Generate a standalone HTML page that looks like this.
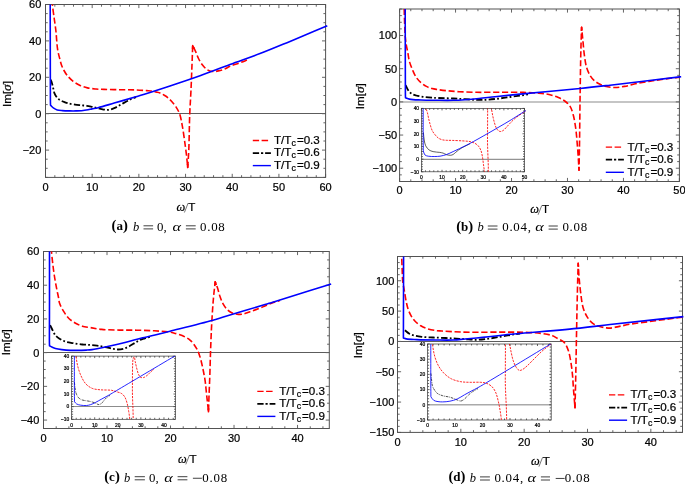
<!DOCTYPE html>
<html><head><meta charset="utf-8"><style>
html,body{margin:0;padding:0;background:#fff;width:685px;height:484px;overflow:hidden}
svg{display:block;will-change:transform}
text{fill:#000;stroke:#000;stroke-width:0.22px}
text.s{stroke:none}
</style></head><body>
<svg width="685" height="484" viewBox="0 0 685 484" font-family='"Liberation Sans", sans-serif'>
<defs><clipPath id="clipa"><rect x="45.00" y="4.50" width="283.10" height="172.90"/></clipPath><clipPath id="clipb"><rect x="399.10" y="9.00" width="282.80" height="172.50"/></clipPath><clipPath id="clipc"><rect x="43.00" y="251.50" width="288.80" height="177.00"/></clipPath><clipPath id="clipd"><rect x="397.00" y="256.50" width="288.00" height="175.90"/></clipPath><clipPath id="clipiB"><rect x="421.40" y="108.40" width="104.60" height="63.40"/></clipPath><clipPath id="clipiC"><rect x="71.60" y="356.10" width="105.40" height="63.20"/></clipPath><clipPath id="clipiD"><rect x="427.60" y="344.00" width="125.10" height="76.00"/></clipPath></defs>
<rect width="685" height="484" fill="#fff"/>
<line x1="45.50" y1="113.50" x2="325.60" y2="113.50" stroke="#5c5c5c" stroke-width="1.0"/>
<path d="M45.50,177.40v-3.6M45.50,4.50v3.6M92.18,177.40v-3.6M92.18,4.50v3.6M138.87,177.40v-3.6M138.87,4.50v3.6M185.55,177.40v-3.6M185.55,4.50v3.6M232.23,177.40v-3.6M232.23,4.50v3.6M278.92,177.40v-3.6M278.92,4.50v3.6M325.60,177.40v-3.6M325.60,4.50v3.6M54.84,177.40v-2.2M54.84,4.50v2.2M64.17,177.40v-2.2M64.17,4.50v2.2M73.51,177.40v-2.2M73.51,4.50v2.2M82.85,177.40v-2.2M82.85,4.50v2.2M101.52,177.40v-2.2M101.52,4.50v2.2M110.86,177.40v-2.2M110.86,4.50v2.2M120.19,177.40v-2.2M120.19,4.50v2.2M129.53,177.40v-2.2M129.53,4.50v2.2M148.20,177.40v-2.2M148.20,4.50v2.2M157.54,177.40v-2.2M157.54,4.50v2.2M166.88,177.40v-2.2M166.88,4.50v2.2M176.21,177.40v-2.2M176.21,4.50v2.2M194.89,177.40v-2.2M194.89,4.50v2.2M204.22,177.40v-2.2M204.22,4.50v2.2M213.56,177.40v-2.2M213.56,4.50v2.2M222.90,177.40v-2.2M222.90,4.50v2.2M241.57,177.40v-2.2M241.57,4.50v2.2M250.91,177.40v-2.2M250.91,4.50v2.2M260.24,177.40v-2.2M260.24,4.50v2.2M269.58,177.40v-2.2M269.58,4.50v2.2M288.25,177.40v-2.2M288.25,4.50v2.2M297.59,177.40v-2.2M297.59,4.50v2.2M306.93,177.40v-2.2M306.93,4.50v2.2M316.26,177.40v-2.2M316.26,4.50v2.2M45.50,150.10h3.6M325.60,150.10h-3.6M45.50,113.70h3.6M325.60,113.70h-3.6M45.50,77.30h3.6M325.60,77.30h-3.6M45.50,40.90h3.6M325.60,40.90h-3.6M45.50,4.50h3.6M325.60,4.50h-3.6M45.50,177.40h2.2M325.60,177.40h-2.2M45.50,168.30h2.2M325.60,168.30h-2.2M45.50,159.20h2.2M325.60,159.20h-2.2M45.50,141.00h2.2M325.60,141.00h-2.2M45.50,131.90h2.2M325.60,131.90h-2.2M45.50,122.80h2.2M325.60,122.80h-2.2M45.50,104.60h2.2M325.60,104.60h-2.2M45.50,95.50h2.2M325.60,95.50h-2.2M45.50,86.40h2.2M325.60,86.40h-2.2M45.50,68.20h2.2M325.60,68.20h-2.2M45.50,59.10h2.2M325.60,59.10h-2.2M45.50,50.00h2.2M325.60,50.00h-2.2M45.50,31.80h2.2M325.60,31.80h-2.2M45.50,22.70h2.2M325.60,22.70h-2.2M45.50,13.60h2.2M325.60,13.60h-2.2" stroke="#666" stroke-width="1.0" fill="none"/>
<rect x="45.50" y="4.50" width="280.10" height="172.90" fill="none" stroke="#525252" stroke-width="1.0"/>
<text x="45.50" y="191.40" text-anchor="middle" font-size="11">0</text>
<text x="92.18" y="191.40" text-anchor="middle" font-size="11">10</text>
<text x="138.87" y="191.40" text-anchor="middle" font-size="11">20</text>
<text x="185.55" y="191.40" text-anchor="middle" font-size="11">30</text>
<text x="232.23" y="191.40" text-anchor="middle" font-size="11">40</text>
<text x="278.92" y="191.40" text-anchor="middle" font-size="11">50</text>
<text x="325.60" y="191.40" text-anchor="middle" font-size="11">60</text>
<text x="41.30" y="154.04" text-anchor="end" font-size="11">−20</text>
<text x="41.30" y="117.64" text-anchor="end" font-size="11">0</text>
<text x="41.30" y="81.24" text-anchor="end" font-size="11">20</text>
<text x="41.30" y="44.84" text-anchor="end" font-size="11">40</text>
<text x="41.30" y="8.44" text-anchor="end" font-size="11">60</text>
<line x1="399.60" y1="102.00" x2="679.40" y2="102.00" stroke="#b2b2b2" stroke-width="1.6"/>
<path d="M399.60,181.50v-3.6M399.60,9.00v3.6M455.56,181.50v-3.6M455.56,9.00v3.6M511.52,181.50v-3.6M511.52,9.00v3.6M567.48,181.50v-3.6M567.48,9.00v3.6M623.44,181.50v-3.6M623.44,9.00v3.6M679.40,181.50v-3.6M679.40,9.00v3.6M410.79,181.50v-2.2M410.79,9.00v2.2M421.98,181.50v-2.2M421.98,9.00v2.2M433.18,181.50v-2.2M433.18,9.00v2.2M444.37,181.50v-2.2M444.37,9.00v2.2M466.75,181.50v-2.2M466.75,9.00v2.2M477.94,181.50v-2.2M477.94,9.00v2.2M489.14,181.50v-2.2M489.14,9.00v2.2M500.33,181.50v-2.2M500.33,9.00v2.2M522.71,181.50v-2.2M522.71,9.00v2.2M533.90,181.50v-2.2M533.90,9.00v2.2M545.10,181.50v-2.2M545.10,9.00v2.2M556.29,181.50v-2.2M556.29,9.00v2.2M578.67,181.50v-2.2M578.67,9.00v2.2M589.86,181.50v-2.2M589.86,9.00v2.2M601.06,181.50v-2.2M601.06,9.00v2.2M612.25,181.50v-2.2M612.25,9.00v2.2M634.63,181.50v-2.2M634.63,9.00v2.2M645.82,181.50v-2.2M645.82,9.00v2.2M657.02,181.50v-2.2M657.02,9.00v2.2M668.21,181.50v-2.2M668.21,9.00v2.2M399.60,168.23h3.6M679.40,168.23h-3.6M399.60,135.06h3.6M679.40,135.06h-3.6M399.60,101.88h3.6M679.40,101.88h-3.6M399.60,68.71h3.6M679.40,68.71h-3.6M399.60,35.54h3.6M679.40,35.54h-3.6M399.60,181.50h2.2M679.40,181.50h-2.2M399.60,174.87h2.2M679.40,174.87h-2.2M399.60,161.60h2.2M679.40,161.60h-2.2M399.60,154.96h2.2M679.40,154.96h-2.2M399.60,148.33h2.2M679.40,148.33h-2.2M399.60,141.69h2.2M679.40,141.69h-2.2M399.60,128.42h2.2M679.40,128.42h-2.2M399.60,121.79h2.2M679.40,121.79h-2.2M399.60,115.15h2.2M679.40,115.15h-2.2M399.60,108.52h2.2M679.40,108.52h-2.2M399.60,95.25h2.2M679.40,95.25h-2.2M399.60,88.62h2.2M679.40,88.62h-2.2M399.60,81.98h2.2M679.40,81.98h-2.2M399.60,75.35h2.2M679.40,75.35h-2.2M399.60,62.08h2.2M679.40,62.08h-2.2M399.60,55.44h2.2M679.40,55.44h-2.2M399.60,48.81h2.2M679.40,48.81h-2.2M399.60,42.17h2.2M679.40,42.17h-2.2M399.60,28.90h2.2M679.40,28.90h-2.2M399.60,22.27h2.2M679.40,22.27h-2.2M399.60,15.63h2.2M679.40,15.63h-2.2M399.60,9.00h2.2M679.40,9.00h-2.2" stroke="#666" stroke-width="1.0" fill="none"/>
<rect x="399.60" y="9.00" width="279.80" height="172.50" fill="none" stroke="#525252" stroke-width="1.0"/>
<text x="399.60" y="194.20" text-anchor="middle" font-size="11">0</text>
<text x="455.56" y="194.20" text-anchor="middle" font-size="11">10</text>
<text x="511.52" y="194.20" text-anchor="middle" font-size="11">20</text>
<text x="567.48" y="194.20" text-anchor="middle" font-size="11">30</text>
<text x="623.44" y="194.20" text-anchor="middle" font-size="11">40</text>
<text x="679.40" y="194.20" text-anchor="middle" font-size="11">50</text>
<text x="397.20" y="172.17" text-anchor="end" font-size="11">−100</text>
<text x="397.20" y="139.00" text-anchor="end" font-size="11">−50</text>
<text x="397.20" y="105.82" text-anchor="end" font-size="11">0</text>
<text x="397.20" y="72.65" text-anchor="end" font-size="11">50</text>
<text x="397.20" y="39.48" text-anchor="end" font-size="11">100</text>
<line x1="43.50" y1="352.50" x2="329.30" y2="352.50" stroke="#5c5c5c" stroke-width="1.0"/>
<path d="M43.50,428.50v-3.6M43.50,251.50v3.6M107.01,428.50v-3.6M107.01,251.50v3.6M170.52,428.50v-3.6M170.52,251.50v3.6M234.03,428.50v-3.6M234.03,251.50v3.6M297.54,428.50v-3.6M297.54,251.50v3.6M56.20,428.50v-2.2M56.20,251.50v2.2M68.90,428.50v-2.2M68.90,251.50v2.2M81.61,428.50v-2.2M81.61,251.50v2.2M94.31,428.50v-2.2M94.31,251.50v2.2M119.71,428.50v-2.2M119.71,251.50v2.2M132.42,428.50v-2.2M132.42,251.50v2.2M145.12,428.50v-2.2M145.12,251.50v2.2M157.82,428.50v-2.2M157.82,251.50v2.2M183.22,428.50v-2.2M183.22,251.50v2.2M195.93,428.50v-2.2M195.93,251.50v2.2M208.63,428.50v-2.2M208.63,251.50v2.2M221.33,428.50v-2.2M221.33,251.50v2.2M246.74,428.50v-2.2M246.74,251.50v2.2M259.44,428.50v-2.2M259.44,251.50v2.2M272.14,428.50v-2.2M272.14,251.50v2.2M284.84,428.50v-2.2M284.84,251.50v2.2M310.25,428.50v-2.2M310.25,251.50v2.2M322.95,428.50v-2.2M322.95,251.50v2.2M43.50,420.07h3.6M329.30,420.07h-3.6M43.50,386.36h3.6M329.30,386.36h-3.6M43.50,352.64h3.6M329.30,352.64h-3.6M43.50,318.93h3.6M329.30,318.93h-3.6M43.50,285.21h3.6M329.30,285.21h-3.6M43.50,251.50h3.6M329.30,251.50h-3.6M43.50,428.50h2.2M329.30,428.50h-2.2M43.50,411.64h2.2M329.30,411.64h-2.2M43.50,403.21h2.2M329.30,403.21h-2.2M43.50,394.79h2.2M329.30,394.79h-2.2M43.50,377.93h2.2M329.30,377.93h-2.2M43.50,369.50h2.2M329.30,369.50h-2.2M43.50,361.07h2.2M329.30,361.07h-2.2M43.50,344.21h2.2M329.30,344.21h-2.2M43.50,335.79h2.2M329.30,335.79h-2.2M43.50,327.36h2.2M329.30,327.36h-2.2M43.50,310.50h2.2M329.30,310.50h-2.2M43.50,302.07h2.2M329.30,302.07h-2.2M43.50,293.64h2.2M329.30,293.64h-2.2M43.50,276.79h2.2M329.30,276.79h-2.2M43.50,268.36h2.2M329.30,268.36h-2.2M43.50,259.93h2.2M329.30,259.93h-2.2" stroke="#666" stroke-width="1.0" fill="none"/>
<rect x="43.50" y="251.50" width="285.80" height="177.00" fill="none" stroke="#525252" stroke-width="1.0"/>
<text x="43.50" y="441.50" text-anchor="middle" font-size="11">0</text>
<text x="107.01" y="441.50" text-anchor="middle" font-size="11">10</text>
<text x="170.52" y="441.50" text-anchor="middle" font-size="11">20</text>
<text x="234.03" y="441.50" text-anchor="middle" font-size="11">30</text>
<text x="297.54" y="441.50" text-anchor="middle" font-size="11">40</text>
<text x="39.30" y="424.01" text-anchor="end" font-size="11">−40</text>
<text x="39.30" y="390.30" text-anchor="end" font-size="11">−20</text>
<text x="39.30" y="356.58" text-anchor="end" font-size="11">0</text>
<text x="39.30" y="322.87" text-anchor="end" font-size="11">20</text>
<text x="39.30" y="289.15" text-anchor="end" font-size="11">40</text>
<text x="39.30" y="255.44" text-anchor="end" font-size="11">60</text>
<line x1="397.50" y1="341.50" x2="682.50" y2="341.50" stroke="#5c5c5c" stroke-width="1.0"/>
<path d="M397.50,432.40v-3.6M397.50,256.50v3.6M460.83,432.40v-3.6M460.83,256.50v3.6M524.17,432.40v-3.6M524.17,256.50v3.6M587.50,432.40v-3.6M587.50,256.50v3.6M650.83,432.40v-3.6M650.83,256.50v3.6M410.17,432.40v-2.2M410.17,256.50v2.2M422.83,432.40v-2.2M422.83,256.50v2.2M435.50,432.40v-2.2M435.50,256.50v2.2M448.17,432.40v-2.2M448.17,256.50v2.2M473.50,432.40v-2.2M473.50,256.50v2.2M486.17,432.40v-2.2M486.17,256.50v2.2M498.83,432.40v-2.2M498.83,256.50v2.2M511.50,432.40v-2.2M511.50,256.50v2.2M536.83,432.40v-2.2M536.83,256.50v2.2M549.50,432.40v-2.2M549.50,256.50v2.2M562.17,432.40v-2.2M562.17,256.50v2.2M574.83,432.40v-2.2M574.83,256.50v2.2M600.17,432.40v-2.2M600.17,256.50v2.2M612.83,432.40v-2.2M612.83,256.50v2.2M625.50,432.40v-2.2M625.50,256.50v2.2M638.17,432.40v-2.2M638.17,256.50v2.2M663.50,432.40v-2.2M663.50,256.50v2.2M676.17,432.40v-2.2M676.17,256.50v2.2M397.50,432.40h3.6M682.50,432.40h-3.6M397.50,402.07h3.6M682.50,402.07h-3.6M397.50,371.74h3.6M682.50,371.74h-3.6M397.50,341.42h3.6M682.50,341.42h-3.6M397.50,311.09h3.6M682.50,311.09h-3.6M397.50,280.76h3.6M682.50,280.76h-3.6M397.50,426.33h2.2M682.50,426.33h-2.2M397.50,420.27h2.2M682.50,420.27h-2.2M397.50,414.20h2.2M682.50,414.20h-2.2M397.50,408.14h2.2M682.50,408.14h-2.2M397.50,396.01h2.2M682.50,396.01h-2.2M397.50,389.94h2.2M682.50,389.94h-2.2M397.50,383.88h2.2M682.50,383.88h-2.2M397.50,377.81h2.2M682.50,377.81h-2.2M397.50,365.68h2.2M682.50,365.68h-2.2M397.50,359.61h2.2M682.50,359.61h-2.2M397.50,353.55h2.2M682.50,353.55h-2.2M397.50,347.48h2.2M682.50,347.48h-2.2M397.50,335.35h2.2M682.50,335.35h-2.2M397.50,329.29h2.2M682.50,329.29h-2.2M397.50,323.22h2.2M682.50,323.22h-2.2M397.50,317.16h2.2M682.50,317.16h-2.2M397.50,305.02h2.2M682.50,305.02h-2.2M397.50,298.96h2.2M682.50,298.96h-2.2M397.50,292.89h2.2M682.50,292.89h-2.2M397.50,286.83h2.2M682.50,286.83h-2.2M397.50,274.70h2.2M682.50,274.70h-2.2M397.50,268.63h2.2M682.50,268.63h-2.2M397.50,262.57h2.2M682.50,262.57h-2.2M397.50,256.50h2.2M682.50,256.50h-2.2" stroke="#666" stroke-width="1.0" fill="none"/>
<rect x="397.50" y="256.50" width="285.00" height="175.90" fill="none" stroke="#525252" stroke-width="1.0"/>
<text x="397.50" y="445.90" text-anchor="middle" font-size="11">0</text>
<text x="460.83" y="445.90" text-anchor="middle" font-size="11">10</text>
<text x="524.17" y="445.90" text-anchor="middle" font-size="11">20</text>
<text x="587.50" y="445.90" text-anchor="middle" font-size="11">30</text>
<text x="650.83" y="445.90" text-anchor="middle" font-size="11">40</text>
<text x="394.30" y="436.34" text-anchor="end" font-size="11">−150</text>
<text x="394.30" y="406.01" text-anchor="end" font-size="11">−100</text>
<text x="394.30" y="375.68" text-anchor="end" font-size="11">−50</text>
<text x="394.30" y="345.36" text-anchor="end" font-size="11">0</text>
<text x="394.30" y="315.03" text-anchor="end" font-size="11">50</text>
<text x="394.30" y="284.70" text-anchor="end" font-size="11">100</text>
<path d="M52.30,0.00C52.33,1.43 52.27,2.49 52.40,4.30C52.63,7.42 53.44,12.74 54.00,17.00C54.57,21.31 55.24,25.20 55.80,30.00C56.49,35.94 56.78,44.50 57.70,50.00C58.36,53.93 59.42,57.33 60.10,60.00C60.56,61.80 60.74,62.92 61.30,64.50C61.97,66.38 62.99,68.65 64.00,70.50C64.94,72.23 65.80,73.69 67.10,75.30C68.65,77.22 70.75,79.42 72.90,81.10C75.08,82.80 77.63,84.25 80.10,85.40C82.47,86.50 84.84,87.30 87.40,87.90C90.12,88.53 93.18,88.75 96.00,89.00C98.71,89.24 100.87,89.29 104.00,89.40C108.42,89.55 114.75,89.62 120.00,89.70C125.08,89.78 130.31,89.73 135.00,89.90C139.14,90.05 143.56,90.39 146.70,90.60C148.81,90.74 150.36,90.74 152.00,91.00C153.46,91.23 154.75,91.66 156.10,92.00C157.42,92.33 158.70,92.49 160.00,93.00C161.43,93.56 162.94,94.48 164.30,95.30C165.60,96.08 166.84,96.86 168.00,97.80C169.18,98.76 170.16,99.74 171.30,101.00C172.73,102.57 174.46,104.56 175.80,106.60C177.21,108.74 178.48,110.86 179.50,113.60C180.78,117.06 181.44,121.36 182.30,125.90C183.35,131.44 184.31,138.79 185.10,144.50C185.77,149.36 186.35,153.89 186.80,158.00C187.18,161.44 187.40,164.33 187.70,167.50C188.07,161.67 188.50,156.84 188.80,150.00C189.23,140.34 189.28,125.69 189.70,115.00C190.05,105.96 190.61,98.57 191.00,90.00C191.41,80.93 191.79,70.11 192.10,62.00C192.34,55.78 192.50,51.00 192.70,45.50C193.60,47.37 194.50,49.09 195.40,51.10C196.43,53.38 197.31,56.18 198.50,58.50C199.63,60.70 200.83,62.82 202.30,64.70C203.74,66.55 205.42,68.56 207.20,69.70C208.75,70.70 210.42,71.28 212.20,71.50C214.13,71.74 216.35,71.31 218.40,70.90C220.49,70.48 222.64,69.79 224.60,69.00C226.50,68.24 227.89,67.19 230.00,66.30C232.79,65.12 236.86,63.98 240.00,62.80C242.83,61.74 245.33,60.67 248.00,59.60" fill="none" stroke="#ff0000" stroke-width="1.6" stroke-dasharray="6.2 2.7" stroke-linejoin="round" clip-path="url(#clipa)"/><path d="M187.37,164.02L187.70,167.50L187.92,164.01" fill="none" stroke="#ff0000" stroke-width="1.6" stroke-linejoin="round" clip-path="url(#clipa)"/><path d="M192.57,49.00L192.70,45.50L194.22,48.65" fill="none" stroke="#ff0000" stroke-width="1.6" stroke-linejoin="round" clip-path="url(#clipa)"/>
<path d="M50.60,79.50C51.03,80.67 51.50,81.71 51.90,83.00C52.38,84.55 52.77,86.47 53.20,88.20C53.63,89.93 53.82,91.79 54.50,93.40C55.16,94.98 56.12,96.60 57.20,97.80C58.18,98.89 59.34,99.66 60.60,100.40C61.93,101.18 63.62,101.78 65.00,102.30C66.20,102.75 67.07,103.06 68.40,103.40C70.23,103.86 72.94,104.29 75.00,104.60C76.80,104.87 78.28,105.01 80.10,105.20C82.18,105.42 84.68,105.49 86.80,105.80C88.73,106.08 90.34,106.48 92.30,106.90C94.56,107.39 97.10,108.11 99.60,108.60C102.20,109.11 105.07,110.02 107.60,109.90C109.92,109.79 112.00,109.07 114.20,108.20C116.63,107.24 119.21,105.46 121.50,104.20C123.55,103.08 125.49,101.95 127.30,101.00C128.86,100.18 130.22,99.44 131.70,98.80C133.13,98.18 134.57,97.73 136.00,97.20" fill="none" stroke="#000000" stroke-width="1.8" stroke-dasharray="6.3 2.2 1.8 2.3" stroke-linejoin="round" clip-path="url(#clipa)"/>
<path d="M50.20,0.00C50.23,20.00 50.26,42.02 50.30,60.00C50.33,74.68 50.32,92.93 50.40,100.00C50.43,102.55 50.47,103.47 50.50,105.20C51.57,106.20 52.54,107.41 53.70,108.20C54.79,108.95 55.88,109.50 57.20,109.90C58.73,110.36 60.50,110.43 62.40,110.60C64.69,110.80 67.62,110.85 70.00,110.90C72.12,110.94 74.03,110.94 76.00,110.90C77.90,110.87 79.68,110.87 81.60,110.70C83.67,110.52 86.12,110.14 88.00,109.80C89.50,109.53 90.52,109.21 92.00,108.90C93.82,108.52 95.60,108.30 98.10,107.70C102.21,106.71 108.49,104.75 114.20,103.10C120.69,101.22 130.44,98.31 135.00,97.00C137.23,96.36 137.64,96.31 140.00,95.60C145.81,93.86 160.01,89.29 170.00,86.00C180.01,82.70 190.03,79.37 200.00,75.80C210.03,72.21 219.99,68.20 230.00,64.50C239.99,60.80 250.04,57.43 260.00,53.60C270.04,49.74 279.47,45.74 290.00,41.40C301.77,36.55 314.87,31.00 327.30,25.80" fill="none" stroke="#0000ff" stroke-width="1.6" stroke-linejoin="round" clip-path="url(#clipa)"/>
<path d="M404.20,0.00C404.20,3.10 404.14,5.80 404.20,9.30C404.27,13.85 404.52,20.23 404.70,25.00C404.85,28.99 404.91,32.52 405.20,36.00C405.46,39.16 405.84,42.14 406.30,45.00C406.72,47.62 407.30,49.89 407.80,52.50C408.34,55.34 408.59,58.45 409.40,61.40C410.24,64.45 411.59,67.72 412.80,70.50C413.87,72.96 414.83,75.27 416.20,77.30C417.49,79.22 419.01,80.89 420.70,82.40C422.41,83.93 424.43,85.35 426.40,86.40C428.24,87.38 430.16,88.07 432.10,88.60C434.02,89.13 435.80,89.27 438.00,89.60C440.79,90.01 444.16,90.46 447.50,90.80C451.19,91.18 454.91,91.46 459.20,91.70C464.45,91.99 470.45,92.21 476.70,92.30C483.91,92.41 492.23,92.18 500.00,92.20C507.79,92.22 516.44,92.21 523.40,92.40C529.01,92.55 534.02,92.69 538.60,93.10C542.40,93.44 545.65,93.75 549.00,94.50C552.25,95.23 555.56,96.25 558.40,97.50C560.97,98.63 563.39,99.93 565.40,101.50C567.24,102.94 568.84,104.39 570.10,106.40C571.54,108.71 572.33,111.64 573.20,114.80C574.27,118.69 575.03,123.41 575.70,128.10C576.44,133.29 576.83,139.10 577.30,144.60C577.77,150.10 578.20,156.41 578.50,161.10C578.72,164.58 578.83,167.17 579.00,170.20C579.17,161.67 579.34,154.53 579.50,144.60C579.72,130.78 579.86,111.22 580.10,95.00C580.33,79.38 580.59,61.50 580.90,49.00C581.11,40.39 581.37,34.47 581.60,27.20C582.07,32.03 582.52,36.87 583.00,41.70C583.48,46.53 583.83,51.65 584.50,56.20C585.10,60.30 585.61,64.35 586.70,67.80C587.64,70.78 588.86,73.52 590.30,75.80C591.55,77.79 592.96,79.47 594.60,80.90C596.20,82.30 598.20,83.39 600.00,84.30C601.63,85.12 602.95,85.70 604.90,86.20C607.57,86.89 611.43,87.47 614.70,87.50C617.96,87.53 621.07,87.00 624.50,86.40C628.39,85.73 632.27,84.41 636.80,83.50C642.30,82.39 649.06,81.33 655.20,80.40C661.33,79.47 669.05,78.42 673.60,77.90C676.28,77.59 677.87,77.50 680.00,77.30" fill="none" stroke="#ff0000" stroke-width="1.6" stroke-dasharray="6.2 2.7" stroke-linejoin="round" clip-path="url(#clipb)"/><path d="M578.81,166.71L579.00,170.20L579.07,166.70" fill="none" stroke="#ff0000" stroke-width="1.6" stroke-linejoin="round" clip-path="url(#clipb)"/><path d="M581.49,30.70L581.60,27.20L581.94,30.68" fill="none" stroke="#ff0000" stroke-width="1.6" stroke-linejoin="round" clip-path="url(#clipb)"/>
<path d="M405.60,85.20C406.47,86.90 407.15,88.83 408.20,90.30C409.17,91.66 410.27,92.93 411.60,93.80C412.93,94.67 414.50,95.03 416.20,95.50C418.23,96.06 420.56,96.45 423.00,96.80C425.80,97.21 429.39,97.50 432.10,97.70C434.28,97.86 435.57,97.90 438.00,98.00C441.92,98.16 448.63,98.28 453.40,98.50C457.54,98.69 460.95,98.98 465.00,99.20C469.45,99.45 474.80,99.86 479.00,99.90C482.44,99.93 485.11,99.82 488.40,99.60C492.07,99.35 496.28,98.85 500.00,98.40C503.46,97.98 506.67,97.47 510.00,97.00C513.33,96.53 516.85,96.06 520.00,95.60C522.82,95.19 525.33,94.80 528.00,94.40" fill="none" stroke="#000000" stroke-width="1.8" stroke-dasharray="6.3 2.2 1.8 2.3" stroke-linejoin="round" clip-path="url(#clipb)"/>
<path d="M405.20,0.00C405.23,20.00 405.26,42.82 405.30,60.00C405.33,72.93 405.32,88.38 405.40,94.00C405.43,95.86 405.47,96.47 405.50,97.70C406.80,98.17 407.73,98.74 409.40,99.10C412.16,99.69 416.53,99.80 420.70,100.00C425.85,100.25 432.40,100.25 438.00,100.30C443.28,100.35 448.63,100.42 453.40,100.30C457.54,100.19 460.95,99.98 465.00,99.70C469.45,99.39 474.18,98.98 479.00,98.50C484.16,97.99 489.07,97.34 495.00,96.70C502.41,95.90 509.87,95.10 520.00,94.10C535.69,92.55 563.44,90.18 580.00,88.50C591.72,87.31 597.92,86.58 610.00,85.20C628.43,83.09 674.03,77.66 679.80,76.90C680.62,76.79 680.73,76.77 681.20,76.70" fill="none" stroke="#0000ff" stroke-width="1.6" stroke-linejoin="round" clip-path="url(#clipb)"/>
<rect x="408" y="104" width="124" height="74" fill="#fff"/>
<line x1="421.40" y1="159.30" x2="524.50" y2="159.30" stroke="#4a4a4a" stroke-width="0.75"/>
<path d="M421.40,171.80v-2.0M421.40,108.40v2.0M442.02,171.80v-2.0M442.02,108.40v2.0M462.64,171.80v-2.0M462.64,108.40v2.0M483.26,171.80v-2.0M483.26,108.40v2.0M503.88,171.80v-2.0M503.88,108.40v2.0M524.50,171.80v-2.0M524.50,108.40v2.0M425.52,171.80v-1.5M425.52,108.40v1.5M429.65,171.80v-1.5M429.65,108.40v1.5M433.77,171.80v-1.5M433.77,108.40v1.5M437.90,171.80v-1.5M437.90,108.40v1.5M446.14,171.80v-1.5M446.14,108.40v1.5M450.27,171.80v-1.5M450.27,108.40v1.5M454.39,171.80v-1.5M454.39,108.40v1.5M458.52,171.80v-1.5M458.52,108.40v1.5M466.76,171.80v-1.5M466.76,108.40v1.5M470.89,171.80v-1.5M470.89,108.40v1.5M475.01,171.80v-1.5M475.01,108.40v1.5M479.14,171.80v-1.5M479.14,108.40v1.5M487.38,171.80v-1.5M487.38,108.40v1.5M491.51,171.80v-1.5M491.51,108.40v1.5M495.63,171.80v-1.5M495.63,108.40v1.5M499.76,171.80v-1.5M499.76,108.40v1.5M508.00,171.80v-1.5M508.00,108.40v1.5M512.13,171.80v-1.5M512.13,108.40v1.5M516.25,171.80v-1.5M516.25,108.40v1.5M520.38,171.80v-1.5M520.38,108.40v1.5M421.40,171.80h2.0M524.50,171.80h-2.0M421.40,159.12h2.0M524.50,159.12h-2.0M421.40,146.44h2.0M524.50,146.44h-2.0M421.40,133.76h2.0M524.50,133.76h-2.0M421.40,121.08h2.0M524.50,121.08h-2.0M421.40,108.40h2.0M524.50,108.40h-2.0M421.40,169.26h1.5M524.50,169.26h-1.5M421.40,166.73h1.5M524.50,166.73h-1.5M421.40,164.19h1.5M524.50,164.19h-1.5M421.40,161.66h1.5M524.50,161.66h-1.5M421.40,156.58h1.5M524.50,156.58h-1.5M421.40,154.05h1.5M524.50,154.05h-1.5M421.40,151.51h1.5M524.50,151.51h-1.5M421.40,148.98h1.5M524.50,148.98h-1.5M421.40,143.90h1.5M524.50,143.90h-1.5M421.40,141.37h1.5M524.50,141.37h-1.5M421.40,138.83h1.5M524.50,138.83h-1.5M421.40,136.30h1.5M524.50,136.30h-1.5M421.40,131.22h1.5M524.50,131.22h-1.5M421.40,128.69h1.5M524.50,128.69h-1.5M421.40,126.15h1.5M524.50,126.15h-1.5M421.40,123.62h1.5M524.50,123.62h-1.5M421.40,118.54h1.5M524.50,118.54h-1.5M421.40,116.01h1.5M524.50,116.01h-1.5M421.40,113.47h1.5M524.50,113.47h-1.5M421.40,110.94h1.5M524.50,110.94h-1.5" stroke="#222" stroke-width="0.7" fill="none"/>
<rect x="421.40" y="108.40" width="103.10" height="63.40" fill="none" stroke="#333" stroke-width="0.7"/>
<text x="421.40" y="179.10" text-anchor="middle" font-size="4.9">0</text>
<text x="442.02" y="179.10" text-anchor="middle" font-size="4.9">10</text>
<text x="462.64" y="179.10" text-anchor="middle" font-size="4.9">20</text>
<text x="483.26" y="179.10" text-anchor="middle" font-size="4.9">30</text>
<text x="503.88" y="179.10" text-anchor="middle" font-size="4.9">40</text>
<text x="524.50" y="179.10" text-anchor="middle" font-size="4.9">50</text>
<text x="419.10" y="173.55" text-anchor="end" font-size="4.9">−10</text>
<text x="419.10" y="160.87" text-anchor="end" font-size="4.9">0</text>
<text x="419.10" y="148.19" text-anchor="end" font-size="4.9">10</text>
<text x="419.10" y="135.51" text-anchor="end" font-size="4.9">20</text>
<text x="419.10" y="122.83" text-anchor="end" font-size="4.9">30</text>
<text x="419.10" y="110.15" text-anchor="end" font-size="4.9">40</text>
<path d="M426.00,106.00C426.03,106.83 425.94,107.58 426.10,108.50C426.31,109.71 427.01,111.10 427.40,112.60C427.86,114.36 428.14,116.41 428.60,118.40C429.10,120.53 429.66,122.88 430.30,125.00C430.90,127.01 431.42,129.09 432.30,130.80C433.09,132.35 434.14,133.65 435.20,134.90C436.22,136.11 437.24,137.36 438.50,138.20C439.74,139.02 441.28,139.55 442.70,139.90C444.05,140.23 445.35,140.22 446.80,140.30C448.43,140.39 449.95,140.33 452.00,140.40C454.99,140.50 459.75,140.66 463.00,140.90C465.60,141.09 467.90,141.14 470.00,141.60C471.80,142.00 473.48,142.54 474.90,143.30C476.17,143.98 477.26,144.76 478.20,145.80C479.22,146.92 480.03,148.31 480.70,149.90C481.50,151.79 481.95,154.16 482.40,156.50C482.90,159.09 483.14,162.15 483.50,164.80C483.84,167.23 484.22,169.37 484.50,171.80C484.80,174.42 484.97,177.27 485.20,180.00C485.87,180.00 486.65,180.54 487.20,180.00C489.65,177.56 487.42,153.33 487.50,140.00C487.58,126.67 487.63,113.33 487.70,100.00C488.87,102.77 490.33,105.49 491.20,108.30C492.04,111.03 492.32,114.06 492.90,116.60C493.39,118.77 493.83,120.68 494.40,122.60C494.94,124.41 495.42,126.35 496.20,127.80C496.84,129.00 497.64,130.19 498.50,130.80C499.17,131.27 499.94,131.53 500.70,131.50C501.54,131.46 502.46,130.97 503.30,130.40C504.33,129.70 505.26,128.49 506.30,127.40C507.48,126.15 508.68,124.67 510.00,123.30C511.41,121.84 512.90,120.27 514.50,118.90C516.13,117.50 518.03,116.20 519.70,115.00C521.22,113.92 523.04,112.70 524.10,112.00C524.69,111.61 525.03,111.40 525.50,111.10" fill="none" stroke="#ff0000" stroke-width="0.85" stroke-dasharray="2.2 1.1" stroke-linejoin="round" clip-path="url(#clipiB)"/><path d="M484.90,176.51L485.20,180.00L487.20,180.00" fill="none" stroke="#ff0000" stroke-width="0.85" stroke-linejoin="round" clip-path="url(#clipiB)"/><path d="M487.68,103.50L487.70,100.00L489.06,103.22" fill="none" stroke="#ff0000" stroke-width="0.85" stroke-linejoin="round" clip-path="url(#clipiB)"/>
<path d="M423.40,132.50C423.67,135.00 423.78,137.67 424.20,140.00C424.58,142.07 424.85,144.11 425.70,145.80C426.49,147.38 427.70,148.92 429.00,149.90C430.20,150.80 431.53,151.19 433.10,151.60C435.03,152.11 437.96,152.10 439.80,152.40C441.10,152.61 442.00,152.74 443.10,153.10C444.27,153.49 445.38,154.33 446.60,154.70C447.84,155.07 449.34,155.38 450.50,155.30C451.46,155.23 452.31,154.93 453.10,154.50C453.91,154.07 454.51,153.36 455.30,152.70C456.25,151.92 457.30,150.92 458.40,150.10C459.53,149.25 460.74,148.43 462.00,147.70C463.28,146.96 464.67,146.37 466.00,145.70C467.33,145.03 468.67,144.37 470.00,143.70" fill="none" stroke="#1a1a1a" stroke-width="0.7" stroke-linejoin="round" clip-path="url(#clipiB)"/>
<path d="M423.20,100.00C423.20,113.33 423.16,130.88 423.20,140.00C423.22,144.74 423.27,147.20 423.30,150.80C423.83,152.17 424.00,154.00 424.90,154.90C425.71,155.71 426.88,155.92 428.20,156.20C430.00,156.58 432.73,156.51 434.80,156.50C436.64,156.49 438.18,156.48 440.00,156.20C442.08,155.87 444.44,155.25 446.60,154.50C448.81,153.73 450.93,152.59 453.10,151.60C455.30,150.59 457.50,149.55 459.70,148.50C461.90,147.45 464.42,146.24 466.30,145.30C467.72,144.59 468.54,144.18 470.00,143.40C472.17,142.25 475.07,140.64 478.00,139.00C481.60,136.99 486.19,134.39 490.00,132.20C493.49,130.20 496.67,128.35 500.00,126.40C503.34,124.45 506.37,122.71 510.00,120.50C514.40,117.82 522.14,112.85 524.50,111.40C525.25,110.94 525.50,110.80 526.00,110.50" fill="none" stroke="#0000ff" stroke-width="0.85" stroke-linejoin="round" clip-path="url(#clipiB)"/>
<path d="M51.40,248.00C51.43,249.17 51.40,249.97 51.50,251.50C51.69,254.40 52.31,259.96 52.80,264.10C53.28,268.13 53.78,272.05 54.40,276.00C55.02,279.95 55.77,283.97 56.50,287.80C57.20,291.46 58.16,295.67 58.70,298.50C59.05,300.35 58.94,301.40 59.50,303.10C60.27,305.45 61.95,308.55 63.50,311.10C65.07,313.68 66.81,316.45 68.90,318.50C70.87,320.44 73.30,321.90 75.60,323.20C77.78,324.44 79.91,325.47 82.30,326.20C84.83,326.97 87.47,327.11 90.40,327.60C93.85,328.17 97.51,328.98 101.70,329.40C106.88,329.91 113.37,329.97 119.20,330.10C125.03,330.23 130.86,330.08 136.70,330.20C142.56,330.32 148.66,330.48 154.30,330.80C159.53,331.10 165.91,331.50 169.40,332.00C171.28,332.27 172.04,332.46 173.70,332.90C176.05,333.52 179.38,334.40 182.10,335.60C184.92,336.84 187.93,338.24 190.30,340.30C192.75,342.44 194.90,345.56 196.50,348.30C197.95,350.77 198.74,353.02 199.70,355.90C200.90,359.49 201.90,364.15 202.80,368.30C203.70,372.42 204.48,376.43 205.10,380.70C205.76,385.21 206.07,389.80 206.60,394.70C207.19,400.12 207.87,406.10 208.50,411.80C208.67,406.60 208.80,401.73 209.00,396.20C209.23,389.92 209.56,383.05 209.80,376.10C210.06,368.62 210.23,360.52 210.50,352.80C210.77,345.16 211.04,337.43 211.40,330.00C211.74,322.88 212.17,315.32 212.60,309.10C212.95,304.08 213.27,300.04 213.70,295.50C214.13,290.94 214.70,286.37 215.20,281.80C216.03,284.07 216.92,286.23 217.70,288.60C218.53,291.14 219.12,294.06 220.00,296.60C220.83,298.98 221.65,301.29 222.80,303.40C223.92,305.45 225.29,307.54 226.80,309.10C228.16,310.51 229.63,311.65 231.30,312.50C233.02,313.37 235.08,313.92 237.00,314.20C238.88,314.47 240.74,314.52 242.70,314.20C244.90,313.84 247.14,312.71 249.50,311.90C252.06,311.02 254.86,310.13 257.50,309.10C260.16,308.06 262.88,306.78 265.40,305.70C267.70,304.72 269.67,303.74 272.00,302.90C274.52,301.99 277.33,301.30 280.00,300.50" fill="none" stroke="#ff0000" stroke-width="1.6" stroke-dasharray="6.2 2.7" stroke-linejoin="round" clip-path="url(#clipc)"/><path d="M208.11,408.32L208.50,411.80L208.61,408.30" fill="none" stroke="#ff0000" stroke-width="1.6" stroke-linejoin="round" clip-path="url(#clipc)"/><path d="M214.82,285.28L215.20,281.80L216.41,285.09" fill="none" stroke="#ff0000" stroke-width="1.6" stroke-linejoin="round" clip-path="url(#clipc)"/>
<path d="M50.10,325.20C51.00,327.00 51.89,328.87 52.80,330.60C53.66,332.23 54.28,333.95 55.40,335.30C56.52,336.65 57.98,337.70 59.50,338.70C61.10,339.75 62.79,340.69 64.80,341.40C67.17,342.23 70.09,342.60 72.90,343.10C75.91,343.64 79.32,344.20 82.30,344.50C84.99,344.77 87.50,344.71 90.00,344.90C92.39,345.08 94.58,345.26 97.00,345.60C99.63,345.97 102.47,346.55 105.20,347.10C107.94,347.65 111.05,348.49 113.40,348.90C115.15,349.20 116.37,349.52 118.00,349.50C119.85,349.48 121.98,349.17 123.90,348.60C125.88,348.02 127.79,346.99 129.70,346.00C131.69,344.97 133.75,343.57 135.60,342.50C137.22,341.56 138.62,340.61 140.20,339.90C141.73,339.22 143.30,338.81 144.90,338.30C146.56,337.77 148.30,337.30 150.00,336.80" fill="none" stroke="#000000" stroke-width="1.8" stroke-dasharray="6.3 2.2 1.8 2.3" stroke-linejoin="round" clip-path="url(#clipc)"/>
<path d="M49.50,248.00C49.50,265.33 49.52,283.80 49.50,300.00C49.48,314.21 49.35,332.65 49.40,340.00C49.42,342.80 49.47,343.87 49.50,345.80C50.60,346.33 51.55,346.91 52.80,347.40C54.34,348.00 56.13,348.57 58.10,349.00C60.50,349.52 63.31,349.86 66.20,350.10C69.51,350.37 73.44,350.41 76.90,350.40C80.16,350.39 83.65,350.27 86.40,350.10C88.51,349.97 89.68,349.93 92.00,349.60C95.89,349.04 102.18,347.64 107.50,346.50C113.16,345.29 119.17,343.94 125.00,342.50C130.87,341.05 136.73,339.27 142.60,337.80C148.43,336.34 155.10,334.92 160.10,333.70C163.87,332.78 165.56,332.33 170.00,331.20C179.15,328.88 202.02,323.31 212.00,320.50C217.59,318.93 219.48,318.17 225.00,316.50C234.68,313.57 257.14,307.00 265.00,304.60C268.30,303.59 268.53,303.49 272.00,302.40C282.10,299.24 311.47,290.13 331.20,284.00" fill="none" stroke="#0000ff" stroke-width="1.6" stroke-linejoin="round" clip-path="url(#clipc)"/>
<rect x="58" y="354.5" width="122" height="71" fill="#fff"/>
<line x1="71.60" y1="406.50" x2="175.50" y2="406.50" stroke="#8c8c8c" stroke-width="1.0"/>
<path d="M71.60,419.30v-2.0M71.60,356.10v2.0M94.69,419.30v-2.0M94.69,356.10v2.0M117.78,419.30v-2.0M117.78,356.10v2.0M140.87,419.30v-2.0M140.87,356.10v2.0M163.96,419.30v-2.0M163.96,356.10v2.0M76.22,419.30v-1.5M76.22,356.10v1.5M80.84,419.30v-1.5M80.84,356.10v1.5M85.45,419.30v-1.5M85.45,356.10v1.5M90.07,419.30v-1.5M90.07,356.10v1.5M99.31,419.30v-1.5M99.31,356.10v1.5M103.92,419.30v-1.5M103.92,356.10v1.5M108.54,419.30v-1.5M108.54,356.10v1.5M113.16,419.30v-1.5M113.16,356.10v1.5M122.40,419.30v-1.5M122.40,356.10v1.5M127.01,419.30v-1.5M127.01,356.10v1.5M131.63,419.30v-1.5M131.63,356.10v1.5M136.25,419.30v-1.5M136.25,356.10v1.5M145.48,419.30v-1.5M145.48,356.10v1.5M150.10,419.30v-1.5M150.10,356.10v1.5M154.72,419.30v-1.5M154.72,356.10v1.5M159.34,419.30v-1.5M159.34,356.10v1.5M168.57,419.30v-1.5M168.57,356.10v1.5M173.19,419.30v-1.5M173.19,356.10v1.5M71.60,419.30h2.0M175.50,419.30h-2.0M71.60,406.66h2.0M175.50,406.66h-2.0M71.60,394.02h2.0M175.50,394.02h-2.0M71.60,381.38h2.0M175.50,381.38h-2.0M71.60,368.74h2.0M175.50,368.74h-2.0M71.60,356.10h2.0M175.50,356.10h-2.0M71.60,416.77h1.5M175.50,416.77h-1.5M71.60,414.24h1.5M175.50,414.24h-1.5M71.60,411.72h1.5M175.50,411.72h-1.5M71.60,409.19h1.5M175.50,409.19h-1.5M71.60,404.13h1.5M175.50,404.13h-1.5M71.60,401.60h1.5M175.50,401.60h-1.5M71.60,399.08h1.5M175.50,399.08h-1.5M71.60,396.55h1.5M175.50,396.55h-1.5M71.60,391.49h1.5M175.50,391.49h-1.5M71.60,388.96h1.5M175.50,388.96h-1.5M71.60,386.44h1.5M175.50,386.44h-1.5M71.60,383.91h1.5M175.50,383.91h-1.5M71.60,378.85h1.5M175.50,378.85h-1.5M71.60,376.32h1.5M175.50,376.32h-1.5M71.60,373.80h1.5M175.50,373.80h-1.5M71.60,371.27h1.5M175.50,371.27h-1.5M71.60,366.21h1.5M175.50,366.21h-1.5M71.60,363.68h1.5M175.50,363.68h-1.5M71.60,361.16h1.5M175.50,361.16h-1.5M71.60,358.63h1.5M175.50,358.63h-1.5" stroke="#222" stroke-width="0.7" fill="none"/>
<rect x="71.60" y="356.10" width="103.90" height="63.20" fill="none" stroke="#333" stroke-width="0.7"/>
<text x="71.60" y="426.60" text-anchor="middle" font-size="4.9">0</text>
<text x="94.69" y="426.60" text-anchor="middle" font-size="4.9">10</text>
<text x="117.78" y="426.60" text-anchor="middle" font-size="4.9">20</text>
<text x="140.87" y="426.60" text-anchor="middle" font-size="4.9">30</text>
<text x="163.96" y="426.60" text-anchor="middle" font-size="4.9">40</text>
<text x="69.30" y="421.05" text-anchor="end" font-size="4.9">−10</text>
<text x="69.30" y="408.41" text-anchor="end" font-size="4.9">0</text>
<text x="69.30" y="395.77" text-anchor="end" font-size="4.9">10</text>
<text x="69.30" y="383.13" text-anchor="end" font-size="4.9">20</text>
<text x="69.30" y="370.49" text-anchor="end" font-size="4.9">30</text>
<text x="69.30" y="357.85" text-anchor="end" font-size="4.9">40</text>
<path d="M76.00,350.00C76.03,352.03 75.90,353.82 76.10,356.10C76.36,359.03 76.89,362.83 77.70,366.10C78.52,369.39 79.61,372.78 81.00,375.80C82.33,378.70 83.80,381.75 85.80,383.90C87.63,385.87 89.90,387.42 92.30,388.40C94.73,389.40 97.39,389.48 100.30,389.80C103.73,390.17 108.73,389.82 111.60,390.30C113.43,390.61 114.46,391.11 116.00,391.60C117.74,392.16 120.00,392.55 121.50,393.50C122.83,394.35 123.82,395.41 124.70,396.80C125.78,398.50 126.45,400.91 127.10,403.20C127.81,405.71 128.25,408.59 128.70,411.30C129.15,413.99 129.53,416.65 129.80,419.40C130.07,422.22 130.13,425.13 130.30,428.00C130.90,428.00 131.60,428.49 132.10,428.00C134.38,425.74 132.31,401.22 132.40,390.00C132.47,381.08 132.38,371.61 132.60,366.00C132.72,362.97 132.65,360.65 133.10,359.00C133.37,358.03 133.89,356.76 134.20,356.80C134.64,356.86 134.82,359.75 135.20,361.50C135.69,363.71 136.29,366.70 136.90,369.00C137.43,370.99 137.85,373.01 138.60,374.50C139.19,375.68 139.82,376.91 140.70,377.40C141.46,377.83 142.52,377.78 143.40,377.60C144.33,377.41 145.22,376.79 146.10,376.20C147.06,375.55 148.05,374.60 148.90,373.80C149.67,373.07 150.21,372.32 151.00,371.60C151.89,370.79 153.00,370.00 154.00,369.20" fill="none" stroke="#ff0000" stroke-width="0.85" stroke-dasharray="2.2 1.1" stroke-linejoin="round" clip-path="url(#clipiC)"/><path d="M130.10,424.51L130.30,428.00L132.10,428.00" fill="none" stroke="#ff0000" stroke-width="0.85" stroke-linejoin="round" clip-path="url(#clipiC)"/>
<path d="M74.40,382.30C74.67,384.57 74.87,387.13 75.20,389.10C75.46,390.65 75.61,391.84 76.10,393.20C76.64,394.68 77.37,396.46 78.40,397.60C79.35,398.64 80.59,399.37 81.90,399.90C83.30,400.47 85.03,400.50 86.60,400.80C88.17,401.10 89.80,401.30 91.30,401.70C92.73,402.08 94.10,402.60 95.40,403.10C96.62,403.57 97.80,404.64 98.90,404.60C99.92,404.56 100.90,403.82 101.80,403.10C102.86,402.25 103.76,400.64 104.70,399.60C105.52,398.70 106.22,397.90 107.10,397.20C107.98,396.50 109.03,396.00 110.00,395.40" fill="none" stroke="#000000" stroke-width="0.7" stroke-dasharray="2.6 0.9 0.7 0.9" stroke-linejoin="round" clip-path="url(#clipiC)"/>
<path d="M74.40,350.00C74.40,363.33 74.36,380.61 74.40,390.00C74.42,395.10 74.47,397.87 74.50,401.80C75.23,402.53 75.77,403.45 76.70,404.00C77.79,404.65 79.30,404.95 80.80,405.20C82.55,405.50 84.84,405.64 86.60,405.50C88.09,405.38 89.31,405.06 90.70,404.60C92.24,404.09 93.77,403.31 95.40,402.50C97.25,401.58 99.26,400.36 101.20,399.30C103.16,398.23 105.23,397.14 107.10,396.10C108.81,395.15 110.57,394.14 112.00,393.30C113.13,392.64 113.36,392.48 115.00,391.50C122.34,387.12 155.33,367.57 175.50,355.60" fill="none" stroke="#0000ff" stroke-width="0.85" stroke-linejoin="round" clip-path="url(#clipiC)"/>
<path d="M401.70,250.00C401.70,252.13 401.65,253.87 401.70,256.40C401.77,260.09 402.02,265.72 402.20,270.00C402.36,273.83 402.35,277.54 402.70,280.90C403.00,283.81 403.61,286.73 404.00,289.00C404.29,290.66 404.53,291.73 404.80,293.30C405.13,295.18 405.35,297.26 405.80,299.50C406.34,302.21 406.99,305.62 407.90,308.40C408.75,310.99 409.75,313.49 411.00,315.70C412.17,317.76 413.49,319.63 415.10,321.30C416.75,323.01 418.78,324.57 420.80,325.80C422.75,326.99 424.70,327.83 427.00,328.60C429.68,329.49 433.33,330.21 436.00,330.60C438.10,330.91 439.46,330.85 441.70,331.00C444.91,331.21 449.11,331.50 453.40,331.70C458.65,331.95 464.33,332.21 470.90,332.30C479.37,332.42 490.83,332.09 500.00,332.10C508.22,332.11 516.17,332.04 523.40,332.30C529.66,332.52 535.67,332.72 540.90,333.40C545.21,333.96 549.66,334.61 552.60,335.70C554.56,336.42 555.53,337.37 557.20,338.30C559.18,339.41 561.94,340.15 563.70,341.90C565.62,343.81 566.87,346.69 568.00,349.60C569.31,352.97 569.98,357.13 570.70,361.10C571.46,365.28 571.94,369.59 572.40,374.10C572.89,378.96 573.09,383.99 573.50,389.30C573.95,395.16 574.50,401.63 575.00,407.80C575.23,398.03 575.49,388.53 575.70,378.50C575.92,367.92 576.08,357.40 576.30,345.90C576.54,332.97 576.84,316.71 577.10,304.70C577.30,295.36 577.50,287.25 577.70,279.80C577.86,273.74 578.03,268.80 578.20,263.30C578.47,267.70 578.62,271.85 579.00,276.50C579.43,281.72 579.97,287.73 580.70,293.10C581.39,298.21 581.90,303.71 583.20,308.00C584.26,311.48 585.58,314.42 587.30,317.10C588.92,319.61 590.90,322.11 593.10,323.70C595.08,325.13 597.46,325.80 599.70,326.50C601.89,327.19 604.50,327.65 606.40,327.90C607.78,328.08 608.56,328.19 610.00,328.10C612.22,327.97 615.34,327.18 618.40,326.60C622.11,325.89 626.17,324.87 630.70,324.10C636.20,323.17 642.97,322.43 649.10,321.60C655.23,320.77 661.63,319.86 667.50,319.10C672.89,318.40 677.83,317.83 683.00,317.20" fill="none" stroke="#ff0000" stroke-width="1.6" stroke-dasharray="6.2 2.7" stroke-linejoin="round" clip-path="url(#clipd)"/><path d="M574.72,404.31L575.00,407.80L575.08,404.30" fill="none" stroke="#ff0000" stroke-width="1.6" stroke-linejoin="round" clip-path="url(#clipd)"/><path d="M578.09,266.80L578.20,263.30L578.41,266.79" fill="none" stroke="#ff0000" stroke-width="1.6" stroke-linejoin="round" clip-path="url(#clipd)"/>
<path d="M404.90,330.30C406.40,331.43 407.77,332.83 409.40,333.70C411.01,334.56 412.71,335.00 414.60,335.50C416.79,336.07 419.31,336.49 421.80,336.80C424.46,337.14 427.57,337.27 430.10,337.40C432.23,337.51 433.51,337.50 436.00,337.60C440.27,337.77 448.19,338.10 453.40,338.40C457.66,338.64 461.12,338.97 465.00,339.20C468.89,339.43 472.80,339.88 476.70,339.80C480.60,339.72 484.51,339.20 488.40,338.70C492.31,338.20 496.37,337.44 500.10,336.80C503.54,336.21 506.69,335.55 510.00,335.00C513.32,334.45 516.67,334.00 520.00,333.50" fill="none" stroke="#000000" stroke-width="1.8" stroke-dasharray="6.3 2.2 1.8 2.3" stroke-linejoin="round" clip-path="url(#clipd)"/>
<path d="M403.60,250.00C403.57,266.67 403.54,284.94 403.50,300.00C403.47,312.42 403.41,328.27 403.40,334.00C403.40,335.94 403.40,336.60 403.40,337.90C404.37,338.23 405.01,338.64 406.30,338.90C408.67,339.38 412.70,339.42 416.70,339.60C422.14,339.84 429.73,339.94 436.00,340.00C441.95,340.06 448.19,340.22 453.40,340.00C457.66,339.82 460.73,339.38 465.00,339.00C470.26,338.53 476.74,337.98 482.60,337.40C488.44,336.82 495.09,336.08 500.10,335.50C503.87,335.07 505.20,334.80 510.00,334.30C522.75,332.96 561.55,330.02 580.00,328.10C592.10,326.84 597.79,325.89 610.00,324.50C629.08,322.33 658.93,319.23 683.40,316.60" fill="none" stroke="#0000ff" stroke-width="1.6" stroke-linejoin="round" clip-path="url(#clipd)"/>
<rect x="413" y="343" width="143" height="85" fill="#fff"/>
<line x1="427.60" y1="404.80" x2="551.20" y2="404.80" stroke="#aaaaaa" stroke-width="1.4"/>
<path d="M427.60,420.00v-2.0M427.60,344.00v2.0M455.07,420.00v-2.0M455.07,344.00v2.0M482.53,420.00v-2.0M482.53,344.00v2.0M510.00,420.00v-2.0M510.00,344.00v2.0M537.47,420.00v-2.0M537.47,344.00v2.0M433.09,420.00v-1.5M433.09,344.00v1.5M438.59,420.00v-1.5M438.59,344.00v1.5M444.08,420.00v-1.5M444.08,344.00v1.5M449.57,420.00v-1.5M449.57,344.00v1.5M460.56,420.00v-1.5M460.56,344.00v1.5M466.05,420.00v-1.5M466.05,344.00v1.5M471.55,420.00v-1.5M471.55,344.00v1.5M477.04,420.00v-1.5M477.04,344.00v1.5M488.03,420.00v-1.5M488.03,344.00v1.5M493.52,420.00v-1.5M493.52,344.00v1.5M499.01,420.00v-1.5M499.01,344.00v1.5M504.51,420.00v-1.5M504.51,344.00v1.5M515.49,420.00v-1.5M515.49,344.00v1.5M520.99,420.00v-1.5M520.99,344.00v1.5M526.48,420.00v-1.5M526.48,344.00v1.5M531.97,420.00v-1.5M531.97,344.00v1.5M542.96,420.00v-1.5M542.96,344.00v1.5M548.45,420.00v-1.5M548.45,344.00v1.5M427.60,420.00h2.0M551.20,420.00h-2.0M427.60,404.80h2.0M551.20,404.80h-2.0M427.60,389.60h2.0M551.20,389.60h-2.0M427.60,374.40h2.0M551.20,374.40h-2.0M427.60,359.20h2.0M551.20,359.20h-2.0M427.60,344.00h2.0M551.20,344.00h-2.0M427.60,416.96h1.5M551.20,416.96h-1.5M427.60,413.92h1.5M551.20,413.92h-1.5M427.60,410.88h1.5M551.20,410.88h-1.5M427.60,407.84h1.5M551.20,407.84h-1.5M427.60,401.76h1.5M551.20,401.76h-1.5M427.60,398.72h1.5M551.20,398.72h-1.5M427.60,395.68h1.5M551.20,395.68h-1.5M427.60,392.64h1.5M551.20,392.64h-1.5M427.60,386.56h1.5M551.20,386.56h-1.5M427.60,383.52h1.5M551.20,383.52h-1.5M427.60,380.48h1.5M551.20,380.48h-1.5M427.60,377.44h1.5M551.20,377.44h-1.5M427.60,371.36h1.5M551.20,371.36h-1.5M427.60,368.32h1.5M551.20,368.32h-1.5M427.60,365.28h1.5M551.20,365.28h-1.5M427.60,362.24h1.5M551.20,362.24h-1.5M427.60,356.16h1.5M551.20,356.16h-1.5M427.60,353.12h1.5M551.20,353.12h-1.5M427.60,350.08h1.5M551.20,350.08h-1.5M427.60,347.04h1.5M551.20,347.04h-1.5" stroke="#222" stroke-width="0.7" fill="none"/>
<rect x="427.60" y="344.00" width="123.60" height="76.00" fill="none" stroke="#333" stroke-width="0.7"/>
<text x="427.60" y="427.30" text-anchor="middle" font-size="4.9">0</text>
<text x="455.07" y="427.30" text-anchor="middle" font-size="4.9">10</text>
<text x="482.53" y="427.30" text-anchor="middle" font-size="4.9">20</text>
<text x="510.00" y="427.30" text-anchor="middle" font-size="4.9">30</text>
<text x="537.47" y="427.30" text-anchor="middle" font-size="4.9">40</text>
<text x="425.30" y="421.75" text-anchor="end" font-size="4.9">−10</text>
<text x="425.30" y="406.55" text-anchor="end" font-size="4.9">0</text>
<text x="425.30" y="391.35" text-anchor="end" font-size="4.9">10</text>
<text x="425.30" y="376.15" text-anchor="end" font-size="4.9">20</text>
<text x="425.30" y="360.95" text-anchor="end" font-size="4.9">30</text>
<text x="425.30" y="345.75" text-anchor="end" font-size="4.9">40</text>
<path d="M432.40,338.00C432.43,340.00 432.27,341.64 432.50,344.00C432.84,347.44 433.70,352.77 434.80,356.60C435.77,359.99 436.91,363.06 438.50,365.90C440.04,368.64 441.92,371.23 444.10,373.40C446.26,375.56 448.76,377.52 451.50,378.90C454.31,380.31 457.67,381.14 460.80,381.70C463.87,382.25 466.90,382.20 470.10,382.30C473.49,382.41 477.65,382.06 480.60,382.30C482.77,382.47 484.40,382.56 486.20,383.20C488.11,383.88 490.16,384.97 491.70,386.40C493.28,387.88 494.46,389.81 495.50,392.00C496.75,394.63 497.53,398.18 498.30,401.30C499.06,404.38 499.58,407.48 500.10,410.60C500.62,413.72 501.08,416.81 501.40,420.00C501.72,423.28 501.80,426.67 502.00,430.00C503.03,430.00 504.27,430.83 505.10,430.00C508.44,426.68 505.23,396.32 505.30,380.00C505.37,364.35 505.43,349.33 505.50,334.00C506.80,337.33 508.42,340.72 509.40,344.00C510.30,347.02 510.65,350.07 511.30,352.90C511.89,355.48 512.31,357.94 513.10,360.30C513.86,362.57 514.74,365.03 515.90,366.80C516.87,368.28 518.08,370.05 519.30,370.40C520.28,370.68 521.32,370.14 522.40,369.60C523.88,368.87 525.40,367.41 527.10,365.90C529.34,363.91 532.02,360.95 534.50,358.50C536.98,356.05 539.30,353.58 542.00,351.20C544.88,348.67 548.20,346.27 551.30,343.80" fill="none" stroke="#ff0000" stroke-width="0.85" stroke-dasharray="2.2 1.1" stroke-linejoin="round" clip-path="url(#clipiD)"/><path d="M501.79,426.51L502.00,430.00L505.10,430.00" fill="none" stroke="#ff0000" stroke-width="0.85" stroke-linejoin="round" clip-path="url(#clipiD)"/><path d="M505.48,337.50L505.50,334.00L506.77,337.26" fill="none" stroke="#ff0000" stroke-width="0.85" stroke-linejoin="round" clip-path="url(#clipiD)"/>
<path d="M430.90,373.40C431.13,375.60 431.34,377.87 431.60,380.00C431.84,382.00 431.86,384.04 432.40,385.80C432.90,387.41 433.72,388.89 434.60,390.20C435.43,391.44 436.28,392.61 437.50,393.50C438.88,394.50 440.71,395.11 442.60,395.70C444.78,396.39 447.63,396.56 449.90,397.20C451.97,397.78 453.82,398.65 455.70,399.30C457.45,399.91 459.26,401.13 460.80,401.00C462.16,400.88 463.28,399.91 464.50,399.00C465.99,397.89 467.39,395.93 468.90,394.60C470.33,393.34 471.77,392.21 473.30,391.20C474.80,390.21 476.43,389.47 478.00,388.60" fill="none" stroke="#000000" stroke-width="0.7" stroke-dasharray="2.6 0.9 0.7 0.9" stroke-linejoin="round" clip-path="url(#clipiD)"/>
<path d="M430.80,338.00C430.80,353.67 430.76,374.54 430.80,385.00C430.82,390.24 430.87,392.87 430.90,396.80C431.87,398.00 432.59,399.60 433.80,400.40C434.97,401.18 436.55,401.35 438.00,401.60C439.49,401.86 440.89,401.93 442.60,401.90C444.75,401.87 447.49,401.67 449.90,401.20C452.36,400.72 454.82,400.03 457.20,399.00C459.70,397.92 462.06,396.17 464.50,394.80C466.93,393.44 469.46,392.05 471.80,390.80C473.94,389.66 474.84,389.36 478.00,387.60C489.06,381.44 526.87,358.27 551.30,343.60" fill="none" stroke="#0000ff" stroke-width="0.85" stroke-linejoin="round" clip-path="url(#clipiD)"/>
<path d="M252.80,140.50H259.10M261.60,140.50H268.10" stroke="#f00" stroke-width="1.35"/>
<text x="274" y="143.90" font-size="11.6">T/T<tspan font-size="8.82" dy="2" dx="0.2">c</tspan><tspan dy="-2" dx="0.9">=0.3</tspan></text>
<path d="M252.80,153.05H259.10M261.00,153.05H263.20M265.10,153.05H270.90" stroke="#000" stroke-width="1.7"/>
<text x="274" y="156.45" font-size="11.6">T/T<tspan font-size="8.82" dy="2" dx="0.2">c</tspan><tspan dy="-2" dx="0.9">=0.6</tspan></text>
<path d="M252.80,165.60H270.90" stroke="#00f" stroke-width="1.4"/>
<text x="274" y="169.00" font-size="11.6">T/T<tspan font-size="8.82" dy="2" dx="0.2">c</tspan><tspan dy="-2" dx="0.9">=0.9</tspan></text>
<path d="M605.80,147.10H612.10M614.60,147.10H621.10" stroke="#f00" stroke-width="1.35"/>
<text x="627.5" y="150.50" font-size="11.6">T/T<tspan font-size="8.82" dy="2" dx="0.2">c</tspan><tspan dy="-2" dx="0.9">=0.3</tspan></text>
<path d="M605.80,159.70H612.10M614.00,159.70H616.20M618.10,159.70H623.90" stroke="#000" stroke-width="1.7"/>
<text x="627.5" y="163.10" font-size="11.6">T/T<tspan font-size="8.82" dy="2" dx="0.2">c</tspan><tspan dy="-2" dx="0.9">=0.6</tspan></text>
<path d="M605.80,172.30H623.90" stroke="#00f" stroke-width="1.4"/>
<text x="627.5" y="175.70" font-size="11.6">T/T<tspan font-size="8.82" dy="2" dx="0.2">c</tspan><tspan dy="-2" dx="0.9">=0.9</tspan></text>
<path d="M257.30,391.40H263.60M266.10,391.40H272.60" stroke="#f00" stroke-width="1.35"/>
<text x="279.2" y="394.80" font-size="11.6">T/T<tspan font-size="8.82" dy="2" dx="0.2">c</tspan><tspan dy="-2" dx="0.9">=0.3</tspan></text>
<path d="M257.30,403.90H263.60M265.50,403.90H267.70M269.60,403.90H275.40" stroke="#000" stroke-width="1.7"/>
<text x="279.2" y="407.30" font-size="11.6">T/T<tspan font-size="8.82" dy="2" dx="0.2">c</tspan><tspan dy="-2" dx="0.9">=0.6</tspan></text>
<path d="M257.30,416.40H275.40" stroke="#00f" stroke-width="1.4"/>
<text x="279.2" y="419.80" font-size="11.6">T/T<tspan font-size="8.82" dy="2" dx="0.2">c</tspan><tspan dy="-2" dx="0.9">=0.9</tspan></text>
<path d="M609.00,394.90H615.30M617.80,394.90H624.30" stroke="#f00" stroke-width="1.35"/>
<text x="630.5" y="398.30" font-size="11.6">T/T<tspan font-size="8.82" dy="2" dx="0.2">c</tspan><tspan dy="-2" dx="0.9">=0.3</tspan></text>
<path d="M609.00,407.55H615.30M617.20,407.55H619.40M621.30,407.55H627.10" stroke="#000" stroke-width="1.7"/>
<text x="630.5" y="410.95" font-size="11.6">T/T<tspan font-size="8.82" dy="2" dx="0.2">c</tspan><tspan dy="-2" dx="0.9">=0.6</tspan></text>
<path d="M609.00,420.20H627.10" stroke="#00f" stroke-width="1.4"/>
<text x="630.5" y="423.60" font-size="11.6">T/T<tspan font-size="8.82" dy="2" dx="0.2">c</tspan><tspan dy="-2" dx="0.9">=0.9</tspan></text>
<text transform="translate(10.90,107.00) rotate(-90)" font-size="11.6">Im[<tspan font-family='"Liberation Serif", serif' font-style="italic" font-size="13.5">σ</tspan>]</text>
<text transform="translate(364.40,109.20) rotate(-90)" font-size="11.6">Im[<tspan font-family='"Liberation Serif", serif' font-style="italic" font-size="13.5">σ</tspan>]</text>
<text transform="translate(9.60,355.20) rotate(-90)" font-size="11.6">Im[<tspan font-family='"Liberation Serif", serif' font-style="italic" font-size="13.5">σ</tspan>]</text>
<text transform="translate(361.90,358.20) rotate(-90)" font-size="11.6">Im[<tspan font-family='"Liberation Serif", serif' font-style="italic" font-size="13.5">σ</tspan>]</text>
<text x="176.50" y="210.80" font-size="12.3" font-family='"Liberation Serif", serif' font-style="italic">ω</text><path d="M184.40,212.50L188.10,203.10" stroke="#555" stroke-width="0.8"/><text x="188.20" y="210.80" font-size="11.6">T</text>
<text x="530.20" y="213.10" font-size="12.3" font-family='"Liberation Serif", serif' font-style="italic">ω</text><path d="M538.10,214.80L541.80,205.40" stroke="#555" stroke-width="0.8"/><text x="541.90" y="213.10" font-size="11.6">T</text>
<text x="177.90" y="462.70" font-size="12.3" font-family='"Liberation Serif", serif' font-style="italic">ω</text><path d="M185.80,464.40L189.50,455.00" stroke="#555" stroke-width="0.8"/><text x="189.60" y="462.70" font-size="11.6">T</text>
<text x="531.00" y="465.00" font-size="12.3" font-family='"Liberation Serif", serif' font-style="italic">ω</text><path d="M538.90,466.70L542.60,457.30" stroke="#555" stroke-width="0.8"/><text x="542.70" y="465.00" font-size="11.6">T</text>
<text class="s" x="111.50" y="230.30" font-family='"Liberation Serif", serif' font-weight="bold" font-size="13.0"><tspan font-size="14.7">(</tspan>a<tspan font-size="14.7">)</tspan></text>
<text class="s" transform="translate(133.00,230.60) scale(1.0,1)" font-family='"Liberation Serif", serif' font-style="italic" font-size="12.5">b</text>
<path d="M143.50,225.80H153.10M143.50,228.90H153.10" stroke="#000" stroke-width="0.75"/>
<text class="s" x="157.00" y="230.60" font-family='"Liberation Serif", serif' font-size="12.9" letter-spacing="0">0,</text>
<text class="s" transform="translate(172.60,230.60) scale(1.3,1)" font-family='"Liberation Serif", serif' font-style="italic" font-size="12.5">α</text>
<path d="M185.90,225.80H195.70M185.90,228.90H195.70" stroke="#000" stroke-width="0.75"/>
<text class="s" x="200.00" y="230.60" font-family='"Liberation Serif", serif' font-size="12.9" letter-spacing="0.75">0.08</text>
<text class="s" x="456.20" y="230.50" font-family='"Liberation Serif", serif' font-weight="bold" font-size="13.0"><tspan font-size="14.7">(</tspan>b<tspan font-size="14.7">)</tspan></text>
<text class="s" transform="translate(477.60,230.80) scale(1.0,1)" font-family='"Liberation Serif", serif' font-style="italic" font-size="12.5">b</text>
<path d="M487.80,226.00H497.50M487.80,229.10H497.50" stroke="#000" stroke-width="0.75"/>
<text class="s" x="502.20" y="230.80" font-family='"Liberation Serif", serif' font-size="12.9" letter-spacing="0.75">0.04,</text>
<text class="s" transform="translate(535.20,230.80) scale(1.3,1)" font-family='"Liberation Serif", serif' font-style="italic" font-size="12.5">α</text>
<path d="M548.60,226.00H557.80M548.60,229.10H557.80" stroke="#000" stroke-width="0.75"/>
<text class="s" x="562.40" y="230.80" font-family='"Liberation Serif", serif' font-size="12.9" letter-spacing="0.75">0.08</text>
<text class="s" x="104.20" y="481.20" font-family='"Liberation Serif", serif' font-weight="bold" font-size="13.0"><tspan font-size="14.7">(</tspan>c<tspan font-size="14.7">)</tspan></text>
<text class="s" transform="translate(124.10,481.50) scale(1.0,1)" font-family='"Liberation Serif", serif' font-style="italic" font-size="12.5">b</text>
<path d="M134.70,476.70H144.90M134.70,479.80H144.90" stroke="#000" stroke-width="0.75"/>
<text class="s" x="149.00" y="481.50" font-family='"Liberation Serif", serif' font-size="12.9" letter-spacing="0">0,</text>
<text class="s" transform="translate(164.20,481.50) scale(1.3,1)" font-family='"Liberation Serif", serif' font-style="italic" font-size="12.5">α</text>
<path d="M177.60,476.70H187.40M177.60,479.80H187.40" stroke="#000" stroke-width="0.75"/>
<path d="M192.90,478.25H201.90" stroke="#000" stroke-width="0.75"/>
<text class="s" x="202.30" y="481.50" font-family='"Liberation Serif", serif' font-size="12.9" letter-spacing="0.75">0.08</text>
<text class="s" x="448.40" y="481.40" font-family='"Liberation Serif", serif' font-weight="bold" font-size="13.0"><tspan font-size="14.7">(</tspan>d<tspan font-size="14.7">)</tspan></text>
<text class="s" transform="translate(469.80,481.70) scale(1.0,1)" font-family='"Liberation Serif", serif' font-style="italic" font-size="12.5">b</text>
<path d="M480.00,476.90H489.90M480.00,480.00H489.90" stroke="#000" stroke-width="0.75"/>
<text class="s" x="494.40" y="481.70" font-family='"Liberation Serif", serif' font-size="12.9" letter-spacing="0.75">0.04,</text>
<text class="s" transform="translate(527.50,481.70) scale(1.3,1)" font-family='"Liberation Serif", serif' font-style="italic" font-size="12.5">α</text>
<path d="M540.90,476.90H550.00M540.90,480.00H550.00" stroke="#000" stroke-width="0.75"/>
<path d="M555.70,478.45H564.60" stroke="#000" stroke-width="0.75"/>
<text class="s" x="564.80" y="481.70" font-family='"Liberation Serif", serif' font-size="12.9" letter-spacing="0.75">0.08</text>
</svg>
</body></html>
